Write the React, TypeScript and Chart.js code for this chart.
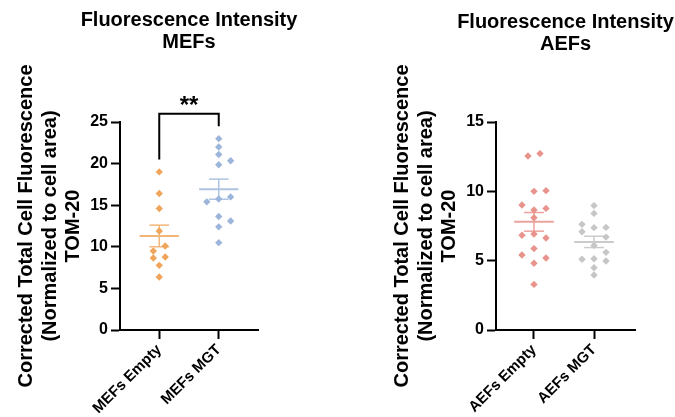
import { useEffect, useRef } from 'react';
import { Chart, registerables } from 'chart.js';

Chart.register(...registerables);

const FONT = "'Liberation Sans', Arial, sans-serif";

// ---- data -------------------------------------------------------------
const yAxisTitle = ['Corrected Total Cell Fluorescence', '(Normalized to cell area)', 'TOM-20'];

const mefTitle = ['Fluorescence Intensity', 'MEFs'];
const mefCategories = ['MEFs Empty', 'MEFs MGT'];
const mefTicks = [0, 5, 10, 15, 20, 25];
const mefEmpty = [19.0, 16.4, 14.6, 11.9, 10.1, 9.5, 8.65, 8.77, 7.77, 6.37];
const mefEmptyLane = [0, 0, 0, 0, 1, -1, -1, 1, 0, 0];
const mefMgt = [23.0, 22.0, 21.1, 20.35, 19.87, 15.4, 15.74, 16.0, 13.65, 13.1, 12.4, 10.5];
const mefMgtLane = [0, 0, 0, 2, 0, -2, 0, 2, 0, 2, 0, 0];
const mefSignificance = '**';

const aefTitle = ['Fluorescence Intensity', 'AEFs'];
const aefCategories = ['AEFs Empty', 'AEFs MGT'];
const aefTicks = [0, 5, 10, 15];
const aefEmpty = [12.55, 12.72, 10.0, 10.05, 9.01, 8.77, 8.65, 8.1, 6.83, 6.92, 6.63, 5.87, 5.41, 5.19, 4.81, 3.29];
const aefEmptyLane = [-1, 1, 0, 2, -2, 2, 0, 0, -2, 0, 2, 0, -2, 2, 0, 0];
const aefMgt = [8.97, 8.41, 7.62, 7.09, 7.38, 7.4, 6.7, 6.1, 5.1, 5.14, 5.6, 4.98, 4.49, 3.97];
const aefMgtLane = [0, 0, -2, -2, 0, 2, 2, 0, -2, 0, 2, 2, 0, 0];

// ---- helpers ----------------------------------------------------------
type Group = { values: number[]; lanes: number[]; color: string; lineColor: string };

const LANE = 0.1; // horizontal step between swarm columns, in category units
const MEAN_HALF = 0.33;
const CAP_HALF = 0.165;

const mean = (a: number[]) => a.reduce((s, v) => s + v, 0) / a.length;
const sem = (a: number[]) => {
  const m = mean(a);
  const sd = Math.sqrt(a.reduce((s, v) => s + (v - m) ** 2, 0) / (a.length - 1));
  return sd / Math.sqrt(a.length);
};

function buildDatasets(groups: Group[]) {
  const out: any[] = [];
  groups.forEach((g, i) => {
    const c = i + 1;
    const m = mean(g.values);
    const s = sem(g.values);
    out.push({
      data: g.values.map((v, k) => ({ x: c + g.lanes[k] * LANE, y: v })),
      pointStyle: 'rectRot',
      pointRadius: 3.7,
      backgroundColor: g.color,
      borderWidth: 0,
      order: 0,
    });
    const seg = (pts: { x: number; y: number }[], w: number) => ({
      data: pts,
      showLine: true,
      borderColor: g.lineColor,
      borderWidth: w,
      pointRadius: 0,
      order: 1,
    });
    out.push(seg([{ x: c - MEAN_HALF, y: m }, { x: c + MEAN_HALF, y: m }], 2));
    out.push(seg([{ x: c, y: m - s }, { x: c, y: m + s }], 1.5));
    out.push(seg([{ x: c - CAP_HALF, y: m + s }, { x: c + CAP_HALF, y: m + s }], 1.5));
    out.push(seg([{ x: c - CAP_HALF, y: m - s }, { x: c + CAP_HALF, y: m - s }], 1.5));
  });
  return out;
}

// Titles, rotated y-axis title and the significance bracket.
const panelText = {
  id: 'panelText',
  afterDraw(chart: any, _args: any, opts: any) {
    const { ctx, chartArea, scales } = chart;
    ctx.save();
    ctx.fillStyle = '#000';
    ctx.strokeStyle = '#000';
    ctx.font = `bold 20px ${FONT}`;
    ctx.textAlign = 'center';
    ctx.textBaseline = 'alphabetic';
    const cx = (chartArea.left + chartArea.right) / 2;
    (opts.title as string[]).forEach((line, i) => {
      ctx.fillText(line, cx, opts.titleBaselines[i]);
    });

    ctx.save();
    ctx.translate(chartArea.left, (chartArea.top + chartArea.bottom) / 2);
    ctx.rotate(-Math.PI / 2);
    (opts.yTitle as string[]).forEach((line, i) => {
      ctx.fillText(line, 0, -87.6 + i * 23.3);
    });
    ctx.restore();

    if (opts.significance && opts.groups) {
      const groups: number[][] = opts.groups;
      const tops = groups.map((g) => Math.max(...g));
      const top = Math.max(...tops) + 3;
      const x1 = scales.x.getPixelForValue(1);
      const x2 = scales.x.getPixelForValue(2);
      const yTop = scales.y.getPixelForValue(top);
      ctx.lineWidth = 2;
      ctx.beginPath();
      ctx.moveTo(x1, scales.y.getPixelForValue(tops[0] + 1.5));
      ctx.lineTo(x1, yTop);
      ctx.lineTo(x2, yTop);
      ctx.lineTo(x2, scales.y.getPixelForValue(tops[1] + 1.5));
      ctx.stroke();
      ctx.font = `bold 24px ${FONT}`;
      ctx.fillText(opts.significance, (x1 + x2) / 2, yTop - 1);
    }
    ctx.restore();
  },
};

type PanelProps = {
  width: number;
  left: number;
  yWidth: number;
  padRight: number;
  xMin: number;
  xMax: number;
  categories: string[];
  ticks: number[];
  groups: Group[];
  title: string[];
  titleBaselines: number[];
  significance?: string;
};

function Panel(p: PanelProps) {
  const ref = useRef<HTMLCanvasElement | null>(null);
  useEffect(() => {
    if (!ref.current) return;
    const tickFont = { family: FONT, size: 16, weight: 'bold' as const };
    const grid = {
      display: true,
      drawOnChartArea: false,
      drawTicks: true,
      tickLength: 9,
      tickWidth: 2,
      tickColor: '#000',
      color: '#000',
    };
    const chart = new Chart(ref.current, {
      type: 'scatter',
      data: { datasets: buildDatasets(p.groups) },
      plugins: [panelText],
      options: {
        responsive: false,
        animation: false,
        events: [],
        layout: { padding: { left: 0, top: 122, right: p.padRight, bottom: 0 } },
        plugins: {
          legend: { display: false },
          tooltip: { enabled: false },
          panelText: {
            title: p.title,
            titleBaselines: p.titleBaselines,
            yTitle: yAxisTitle,
            significance: p.significance,
            groups: p.significance ? p.groups.map((g) => g.values) : null,
          },
        } as any,
        scales: {
          x: {
            type: 'linear',
            min: p.xMin,
            max: p.xMax,
            afterBuildTicks: (s: any) => {
              s.ticks = p.categories.map((_, i) => ({ value: i + 1 }));
            },
            afterFit: (s: any) => {
              s.height = 87;
            },
            ticks: {
              autoSkip: false,
              maxRotation: 45,
              minRotation: 45,
              padding: 2,
              color: '#000',
              font: { family: FONT, size: 15, weight: 'bold' },
              callback: (v: any) => p.categories[Math.round(Number(v)) - 1] ?? '',
            },
            grid,
            border: { display: true, color: '#000', width: 2 },
          },
          y: {
            type: 'linear',
            min: p.ticks[0],
            max: p.ticks[p.ticks.length - 1],
            afterBuildTicks: (s: any) => {
              s.ticks = p.ticks.map((v) => ({ value: v }));
            },
            afterFit: (s: any) => {
              s.width = p.yWidth;
            },
            ticks: { padding: 3, color: '#000', font: tickFont },
            grid,
            border: { display: true, color: '#000', width: 2 },
          },
        },
      } as any,
    });
    return () => chart.destroy();
  }, []);
  return (
    <canvas
      ref={ref}
      width={p.width}
      height={417}
      style={{ position: 'absolute', left: p.left, top: 0, width: p.width, height: 417 }}
    />
  );
}

export default function App() {
  return (
    <div style={{ position: 'fixed', left: 0, top: 0, width: 675, height: 417, background: '#fff' }}>
      <Panel
        width={340}
        left={0}
        yWidth={120}
        padRight={82}
        xMin={0.34}
        xMax={2.66}
        categories={mefCategories}
        ticks={mefTicks}
        title={mefTitle}
        titleBaselines={[26, 48]}
        significance={mefSignificance}
        groups={[
          { values: mefEmpty, lanes: mefEmptyLane, color: '#EFA65C', lineColor: '#F2B57A' },
          { values: mefMgt, lanes: mefMgtLane, color: '#9CB5DA', lineColor: '#AEC3E2' },
        ]}
      />
      <Panel
        width={335}
        left={340}
        yWidth={156}
        padRight={40}
        xMin={0.367}
        xMax={2.683}
        categories={aefCategories}
        ticks={aefTicks}
        title={aefTitle}
        titleBaselines={[27.7, 50]}
        groups={[
          { values: aefEmpty, lanes: aefEmptyLane, color: '#E8948D', lineColor: '#ECA39D' },
          { values: aefMgt, lanes: aefMgtLane, color: '#C6C6C6', lineColor: '#CBCBCB' },
        ]}
      />
    </div>
  );
}
